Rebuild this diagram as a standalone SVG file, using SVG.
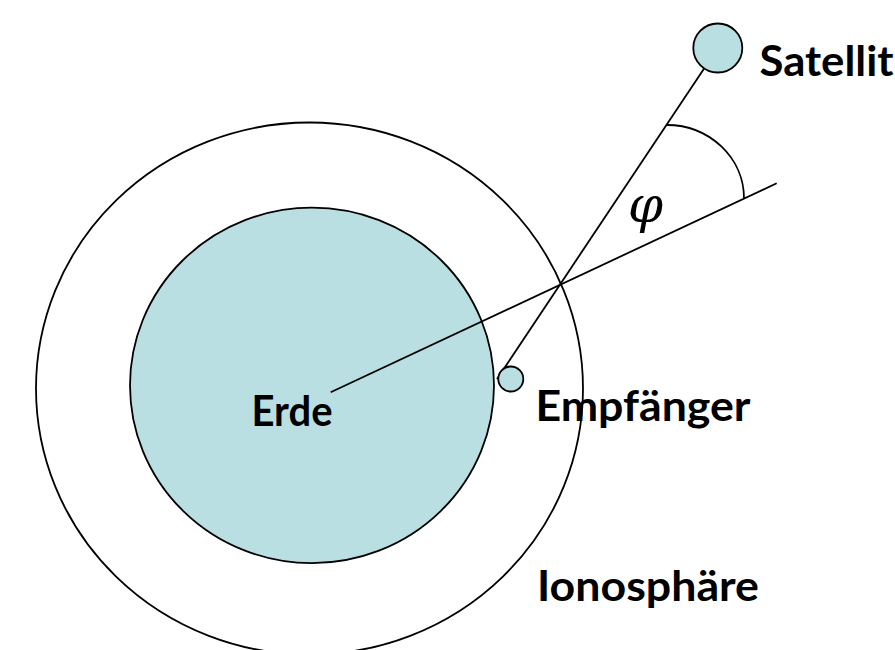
<svg xmlns="http://www.w3.org/2000/svg" width="895" height="650" viewBox="0 0 895 650">
  <style>
    .ln { fill: none; stroke: #000; stroke-width: 1.8; }
    .body { fill: #BADFE2; stroke: #000; stroke-width: 1.8; }
    .lbl { font-family: Lato, "Open Sans", "Liberation Sans", sans-serif; font-weight: bold; font-size: 42px; fill: #000; }
    .sym { font-family: "DejaVu Serif", "Liberation Serif", serif; font-style: italic; font-size: 50px; fill: #000; }
  </style>
  <rect width="895" height="650" fill="#fff"/>
  <g id="ionosphaere">
    <ellipse cx="309.5" cy="388.5" rx="273.5" ry="266" class="ln" stroke-width="2.2"/>
    <text class="lbl" x="537" y="601" textLength="222" lengthAdjust="spacingAndGlyphs">Ionosphäre</text>
  </g>
  <g id="erde">
    <ellipse cx="312" cy="385.4" rx="182" ry="177.7" class="body"/>
    <text class="lbl" x="251.5" y="426" textLength="81" lengthAdjust="spacingAndGlyphs">Erde</text>
  </g>
  <g id="connectors">
    <line x1="330.7" y1="392.3" x2="776.7" y2="183.3" class="ln"/>
    <line x1="497" y1="379" x2="717.8" y2="48" class="ln"/>
    <path d="M666.7,125 A77.3,73.3 0 0 1 744,198.3" class="ln"/>
  </g>
  <g id="satellit">
    <circle cx="717.8" cy="48" r="24.5" class="body"/>
    <text class="lbl" x="759.5" y="75.5" textLength="134" lengthAdjust="spacingAndGlyphs">Satellit</text>
  </g>
  <g id="empfaenger">
    <circle cx="510.8" cy="379" r="12.5" class="body"/>
    <text class="lbl" x="535.5" y="421" textLength="215" lengthAdjust="spacingAndGlyphs">Empfänger</text>
  </g>
  <g id="winkel">
    <text class="sym" x="628" y="222">φ</text>
  </g>
</svg>
